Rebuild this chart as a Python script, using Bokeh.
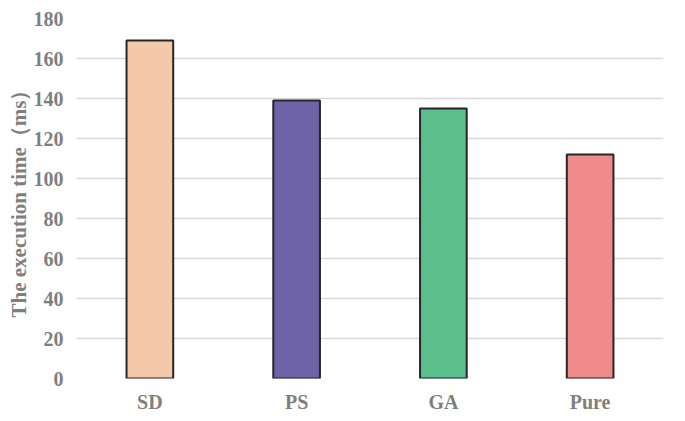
from bokeh.plotting import figure
from bokeh.models import ColumnDataSource, FactorRange, Range1d, FixedTicker
from bokeh.embed import file_html
from bokeh.resources import INLINE

categories = ["SD", "PS", "GA", "Pure"]
times_ms = [169, 139, 135, 112]
colors = ["#F4C9A9", "#6E63A8", "#5BBE8D", "#EE8A89"]
y_ticks = [0, 20, 40, 60, 80, 100, 120, 140, 160, 180]

src = ColumnDataSource(dict(cat=categories, val=times_ms, color=colors))

p = figure(x_range=FactorRange(factors=categories, range_padding=0),
           y_range=Range1d(0, 180),
           width=685, height=421, output_backend="svg", toolbar_location=None,
           min_border_left=76, min_border_right=22, min_border_top=18, min_border_bottom=43)

p.vbar(x="cat", top="val", width=0.318, source=src, fill_color="color",
       line_color="#262626", line_width=2)

p.outline_line_color = None
p.xgrid.grid_line_color = None
p.ygrid.grid_line_color = "#d9d9d9"
p.ygrid.grid_line_width = 1.5
p.yaxis.ticker = FixedTicker(ticks=y_ticks)

font = "Liberation Serif"
for ax in (p.xaxis, p.yaxis):
    ax.axis_line_color = None
    ax.major_tick_line_color = None
    ax.major_tick_out = 0
    ax.major_tick_in = 0
    ax.minor_tick_line_color = None
    ax.major_label_text_font = font
    ax.major_label_text_font_style = "bold"
    ax.major_label_text_color = "#7f7f7f"
    ax.major_label_text_font_size = "20px"

p.xaxis.major_label_standoff = 12
p.yaxis.major_label_standoff = 13
p.yaxis.axis_label = "The execution time（ms）"
p.yaxis.axis_label_text_font = font
p.yaxis.axis_label_text_font_style = "bold"
p.yaxis.axis_label_text_color = "#7f7f7f"
p.yaxis.axis_label_text_font_size = "21px"
p.yaxis.axis_label_standoff = 0

open("out.html", "w").write(file_html(p, INLINE))
